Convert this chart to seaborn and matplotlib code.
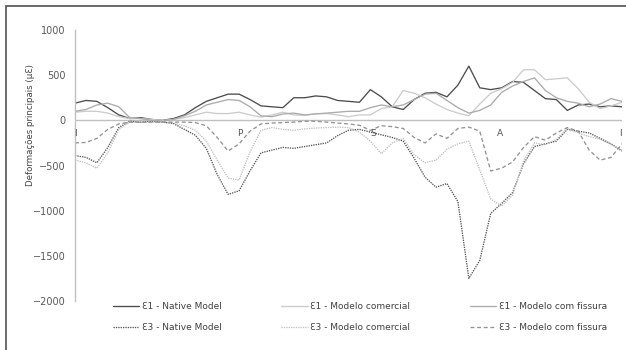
import numpy as np
import pandas as pd
import matplotlib
matplotlib.use('Agg')
import matplotlib.pyplot as plt
import seaborn as sns
from matplotlib.patches import Rectangle

# =============================================================================
# Data
# =============================================================================
pos = list(range(0, 101, 2))

e1_native = [190, 220, 210, 140, 60, 20, 30, 10, 0, 20,
             60, 140, 210, 250, 290, 290, 230, 160, 150, 140,
             250, 250, 270, 260, 220, 210, 200, 340, 260, 150,
             120, 230, 300, 310, 260, 390, 600, 360, 340, 360,
             430, 420, 330, 240, 230, 110, 170, 180, 150, 160, 150]

e1_comercial = [90, 100, 100, 80, 40, 20, 20, 10, 0, 10,
                30, 60, 90, 75, 75, 90, 60, 35, 60, 90,
                60, 55, 75, 75, 60, 40, 60, 60, 130, 150,
                330, 300, 250, 180, 120, 80, 50, 180, 300, 350,
                420, 560, 560, 450, 460, 470, 350, 200, 130, 160, 200]

e1_fissura = [100, 120, 170, 190, 150, 30, 20, 0, -10, 10,
              50, 100, 170, 200, 230, 220, 150, 50, 40, 70,
              80, 60, 70, 80, 90, 100, 100, 140, 170, 150,
              170, 230, 290, 300, 220, 140, 80, 110, 170, 310,
              380, 430, 470, 330, 250, 210, 190, 150, 180, 240, 210]

e3_native = [-390, -410, -470, -300, -80, -10, -20, -10, -20, -35,
             -100, -165, -310, -600, -820, -780, -560, -360, -330, -300,
             -310, -290, -270, -250, -170, -110, -100, -130, -160, -190,
             -230, -420, -630, -740, -700, -900, -1750, -1550, -1030, -920,
             -800, -480, -290, -260, -230, -100, -120, -140, -200, -260, -340]

e3_comercial = [-440, -470, -530, -360, -100, -20, -20, -20, -20, -30,
                -60, -110, -230, -440, -640, -660, -350, -110, -80, -100,
                -110, -95, -85, -80, -75, -80, -130, -230, -370, -250,
                -200, -380, -470, -440, -320, -260, -230, -550, -870, -950,
                -830, -450, -250, -270, -210, -90, -140, -180, -210, -270, -330]

e3_fissura = [-250, -245, -200, -100, -40, -20, -20, -20, -20, -20,
              -20, -25, -60, -190, -340, -260, -120, -40, -30, -25,
              -20, -10, -10, -20, -30, -40, -55, -110, -60, -70,
              -90, -190, -250, -150, -200, -90, -75, -120, -560, -530,
              -460, -300, -180, -220, -140, -80, -120, -330, -440, -410, -260]

# position labels along the section
mark_labels = ['I', 'P', 'S', 'A', 'I']
mark_pos = [0, 30.2, 54.5, 77.7, 99.8]

series = [
    ('Ɛ1 - Native Model', e1_native, '#4d4d4d', '-'),
    ('Ɛ3 - Native Model', e3_native, '#555555', (0, (1, 0.8))),
    ('Ɛ1 - Modelo comercial', e1_comercial, '#cccccc', '-'),
    ('Ɛ3 - Modelo comercial', e3_comercial, '#c0c0c0', (0, (1, 0.8))),
    ('Ɛ1 - Modelo com fissura', e1_fissura, '#ababab', '-'),
    ('Ɛ3 - Modelo com fissura', e3_fissura, '#939393', (0, (3, 2))),
]

# =============================================================================
# Plot
# =============================================================================
sns.set_theme(style='white')
plt.rcParams['font.family'] = ['DejaVu Sans']

fig = plt.figure(figsize=(6.26, 3.5), dpi=100)
ax = fig.add_axes([75/626, 1-301/350, (622-75)/626, (301-30)/350])

for name, vals, col, ls in series:
    df = pd.DataFrame({'pos': pos, 'val': vals})
    sns.lineplot(data=df, x='pos', y='val', ax=ax, color=col, linestyle=ls,
                 linewidth=0.95, label=name)

ax.axhline(0, color='#bfbfbf', linewidth=1.0, zorder=0)
ax.set_xlim(0, 100)
ax.set_ylim(-2000, 1000)
ax.set_yticks([1000, 500, 0, -500, -1000, -1500, -2000])
ax.set_xticks([])
ax.set_xlabel('')
ax.set_ylabel('Deformações principais (µƐ)', fontsize=6.2, color='#404040')
ax.yaxis.set_label_coords(-0.073, 0.65)
ax.tick_params(axis='y', length=0, pad=7, labelsize=7, labelcolor='#595959')

for s in ['top', 'right', 'bottom']:
    ax.spines[s].set_visible(False)
ax.spines['left'].set_color('#c0c0c0')
ax.spines['left'].set_linewidth(1.0)

for lab, p in zip(mark_labels, mark_pos):
    ax.text(p, -150, lab, ha='center', va='center', fontsize=6.5, color='#505050')

handles, labels = ax.get_legend_handles_labels()
ax.get_legend().remove()
fig.legend(handles, labels, ncol=3, loc='upper center',
           bbox_to_anchor=(360/626, 1-294/350), frameon=False,
           fontsize=6.5, handlelength=2.9, columnspacing=6.6,
           labelspacing=1.3, handletextpad=0.3, labelcolor='#404040')

# outer frame (top/left visible)
fig.patches.append(Rectangle((6/626, -0.1), 1.2, 1-6/350+0.1,
                             transform=fig.transFigure, fill=False,
                             edgecolor='#505050', linewidth=1.2))

fig.savefig('out.png', dpi=100)
